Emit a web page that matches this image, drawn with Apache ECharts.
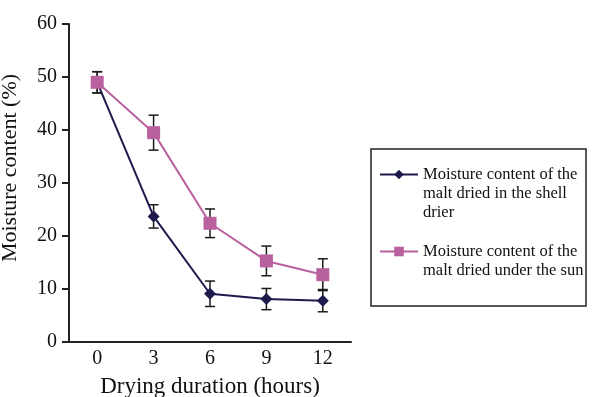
<!DOCTYPE html>
<html>
<head>
<meta charset="utf-8">
<script src="https://cdn.jsdelivr.net/npm/echarts@6/dist/echarts.min.js"></script>
<style>
  html, body { margin: 0; padding: 0; background: #fff; }
  #chart { width: 608px; height: 397px; }
</style>
</head>
<body>
<div id="chart"></div>
<script>
// drying time in hours
const hours = ['0', '3', '6', '9', '12'];
// shell drier series, with error bar half-widths
const shellName = 'Moisture content of the\nmalt dried in the shell\ndrier';
const shellValues = [49.0, 23.7, 9.1, 8.1, 7.8];
const shellErr = [2.0, 2.2, 2.4, 2.0, 2.1];
// sun dried series
const sunName = 'Moisture content of the\nmalt dried under the sun';
const sunValues = [49.0, 39.5, 22.4, 15.3, 12.7];
const sunErr = [2.0, 3.3, 2.7, 2.8, 3.0];
const yTicks = { min: 0, max: 60, step: 10 };

const navy = '#1d1b4c';
const pink = '#b9609f';
const font = 'Liberation Serif';

function errData(vals, errs) {
  return vals.map(function (v, i) { return [i, v - errs[i], v + errs[i]]; });
}

function errSeries(vals, errs) {
  return {
    type: 'custom',
    silent: true,
    z: 1,
    data: errData(vals, errs),
    renderItem: function (params, api) {
      const lo = api.coord([api.value(0), api.value(1)]);
      const hi = api.coord([api.value(0), api.value(2)]);
      const w = 5;
      const st = { stroke: '#1a1a1a', lineWidth: 1.5 };
      return {
        type: 'group',
        children: [
          { type: 'line', shape: { x1: lo[0], y1: lo[1], x2: hi[0], y2: hi[1] }, style: st },
          { type: 'line', shape: { x1: lo[0] - w, y1: lo[1], x2: lo[0] + w, y2: lo[1] }, style: st },
          { type: 'line', shape: { x1: hi[0] - w, y1: hi[1], x2: hi[0] + w, y2: hi[1] }, style: st }
        ]
      };
    }
  };
}

// pad with empty lines above so the first line sits level with the icon
function legendText(name) {
  const n = name.split('\n').length;
  return '\n'.repeat(n - 1) + name;
}

const chart = echarts.init(document.getElementById('chart'));
chart.setOption({
  animation: false,
  textStyle: { fontFamily: font },
  grid: { left: 69, right: 257, top: 24, bottom: 55, outerBoundsMode: 'none' },
  xAxis: {
    type: 'category',
    data: hours,
    boundaryGap: true,
    name: 'Drying duration (hours)',
    nameLocation: 'middle',
    nameGap: 33,
    nameTextStyle: { fontSize: 23, color: '#111', fontFamily: font },
    axisLine: { lineStyle: { color: '#222', width: 2 } },
    axisTick: { length: 6, lineStyle: { color: '#222', width: 2 } },
    axisLabel: { fontSize: 20, color: '#111', margin: 7, fontFamily: font }
  },
  yAxis: {
    type: 'value',
    min: yTicks.min,
    max: yTicks.max,
    interval: yTicks.step,
    name: 'Moisture content (%)',
    nameLocation: 'middle',
    nameGap: 48,
    nameTextStyle: { fontSize: 22, color: '#111', fontFamily: font, padding: [0, 0, 0, 30] },
    axisLine: { show: true, lineStyle: { color: '#222', width: 2 } },
    axisTick: { show: true, length: 7, lineStyle: { color: '#222', width: 2 } },
    axisLabel: { fontSize: 20, color: '#111', margin: 12, fontFamily: font },
    splitLine: { show: false }
  },
  legend: {
    orient: 'vertical',
    left: 379,
    top: 127,
    padding: 0,
    itemWidth: 38,
    itemHeight: 12,
    itemGap: 1,
    formatter: legendText,
    textStyle: { fontSize: 16.5, color: '#111', fontFamily: font, lineHeight: 19 },
    data: [shellName, sunName]
  },
  graphic: [{
    type: 'rect',
    shape: { x: 371, y: 149, width: 215, height: 157 },
    style: { fill: 'none', stroke: '#222', lineWidth: 1.5 }
  }],
  series: [
    errSeries(shellValues, shellErr),
    errSeries(sunValues, sunErr),
    {
      name: shellName,
      type: 'line',
      data: shellValues,
      symbol: 'diamond',
      symbolSize: 12,
      color: navy,
      lineStyle: { width: 2, color: navy },
      itemStyle: { color: navy },
      z: 3
    },
    {
      name: sunName,
      type: 'line',
      data: sunValues,
      symbol: 'rect',
      symbolSize: 13,
      color: pink,
      lineStyle: { width: 2, color: pink },
      itemStyle: { color: pink },
      z: 4
    }
  ]
});
</script>
</body>
</html>
